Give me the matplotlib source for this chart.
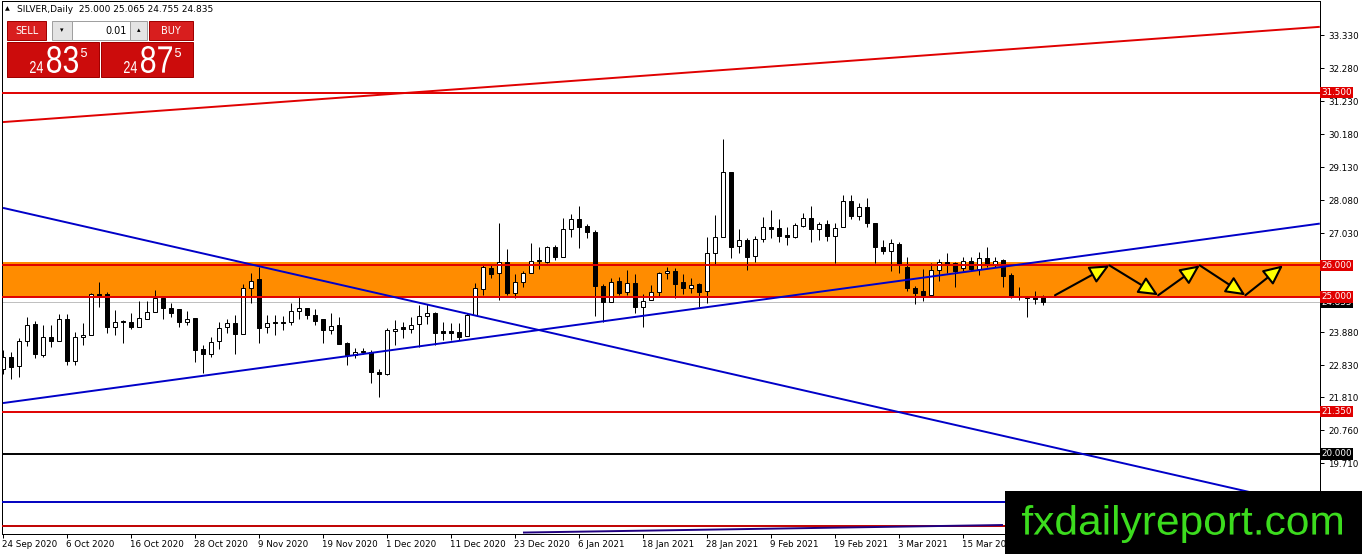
import matplotlib
matplotlib.use('Agg')
import matplotlib.pyplot as plt
import matplotlib.patches as patches
import matplotlib.transforms as mtransforms
from matplotlib.textpath import TextPath
from matplotlib.font_manager import FontProperties

# --- daily candles, SILVER, 24 Sep 2020 .. 29 Mar 2021 (bar index = position) ---
opens = [22.70, 23.07, 22.81, 23.59, 24.14, 23.15, 23.71, 23.61, 24.28, 22.97,
         23.71, 23.79, 25.09, 25.09, 24.05, 24.24, 24.19, 24.05, 24.30, 24.53,
         24.95, 24.63, 24.60, 24.21, 24.32, 23.33, 23.17, 23.59, 24.03, 24.16,
         23.81, 25.27, 25.56, 24.03, 24.20, 24.19, 24.20, 24.56, 24.66, 24.41,
         24.29, 23.96, 24.10, 23.52, 23.15, 23.28, 23.25, 22.60, 22.56, 23.92,
         24.04, 23.97, 24.12, 24.40, 24.47, 23.91, 23.91, 23.88, 23.76, 24.42,
         25.24, 25.93, 25.75, 26.10, 25.11, 25.46, 25.75, 26.17, 26.12, 26.57,
         26.28, 27.15, 27.47, 27.25, 27.05, 25.34, 24.82, 25.50, 25.14, 25.43,
         24.67, 24.90, 25.14, 25.75, 25.81, 25.46, 25.27, 25.41, 25.20, 26.41,
         26.91, 28.96, 26.62, 26.81, 26.30, 26.83, 27.22, 27.18, 26.97, 26.89,
         27.25, 27.50, 27.15, 27.32, 26.95, 27.21, 28.06, 27.57, 27.87, 27.34,
         26.60, 26.47, 26.68, 25.94, 25.27, 25.19, 25.05, 25.86, 26.12, 26.07,
         25.91, 26.15, 25.87, 26.22, 26.01, 26.17, 25.69, 25.03, 24.98, 24.98,
         25.000]
highs = [23.31, 23.25, 23.68, 24.35, 24.24, 24.10, 24.10, 24.45, 24.45, 23.89,
         24.16, 25.13, 25.48, 25.16, 24.58, 24.26, 24.50, 24.88, 24.88, 25.22,
         25.00, 24.79, 24.60, 24.56, 24.32, 23.46, 23.73, 24.21, 24.31, 24.42,
         25.41, 25.77, 25.96, 24.42, 24.42, 24.39, 24.79, 24.98, 24.66, 24.60,
         24.31, 24.50, 24.35, 23.57, 23.36, 23.36, 23.31, 22.69, 24.00, 24.26,
         24.21, 24.37, 24.74, 24.77, 24.53, 24.21, 24.16, 24.16, 24.47, 25.43,
         26.01, 26.01, 27.36, 26.51, 25.73, 25.83, 26.72, 26.57, 26.62, 26.65,
         27.50, 27.63, 27.89, 27.31, 27.12, 25.41, 25.59, 25.64, 25.85, 25.72,
         25.09, 25.38, 25.80, 25.94, 25.91, 25.72, 25.59, 25.43, 26.89, 27.60,
         30.01, 28.96, 27.15, 26.86, 26.93, 27.53, 27.76, 27.47, 27.23, 27.36,
         27.66, 27.89, 27.39, 27.44, 27.34, 28.24, 28.24, 27.97, 28.13, 27.34,
         26.81, 26.83, 26.76, 26.26, 25.35, 25.87, 26.07, 26.19, 26.40, 26.12,
         26.26, 26.28, 26.44, 26.57, 26.26, 26.19, 25.77, 25.30, 25.03, 25.19,
         25.065]
lows = [22.56, 22.37, 22.44, 23.45, 23.04, 23.10, 23.39, 23.61, 22.83, 22.83,
        23.47, 23.79, 24.69, 23.86, 23.79, 23.52, 23.98, 24.05, 24.28, 24.53,
        24.28, 24.35, 24.03, 24.10, 22.94, 22.57, 23.10, 23.33, 23.84, 23.17,
        23.81, 24.81, 23.52, 23.84, 23.79, 23.94, 24.10, 24.28, 24.28, 24.10,
        23.54, 23.82, 23.50, 22.83, 23.04, 23.18, 22.25, 21.82, 22.51, 23.47,
        23.68, 23.86, 23.41, 24.13, 23.47, 23.63, 23.63, 23.63, 23.76, 24.42,
        25.06, 25.59, 24.90, 25.06, 24.96, 25.32, 25.75, 25.87, 26.07, 26.17,
        26.28, 26.91, 26.54, 26.86, 24.40, 24.21, 24.82, 25.06, 25.06, 24.50,
        24.05, 24.90, 25.00, 25.56, 24.95, 25.09, 25.11, 24.67, 24.79, 26.01,
        26.91, 26.22, 26.38, 25.85, 26.12, 26.76, 26.86, 26.76, 26.65, 26.86,
        27.23, 26.76, 26.81, 26.79, 26.09, 27.21, 27.47, 27.44, 27.21, 26.07,
        26.36, 25.83, 25.77, 25.20, 24.77, 24.88, 25.05, 25.51, 25.75, 25.30,
        25.83, 25.83, 25.69, 25.94, 25.94, 25.30, 24.95, 24.90, 24.35, 24.77,
        24.755]
closes = [23.07, 22.78, 23.59, 24.10, 23.18, 23.71, 23.61, 24.28, 22.97, 23.71,
          23.79, 25.09, 25.03, 24.05, 24.19, 24.20, 24.05, 24.32, 24.53, 24.95,
          24.63, 24.50, 24.21, 24.28, 23.31, 23.17, 23.55, 24.00, 24.16, 23.81,
          25.27, 25.51, 24.02, 24.16, 24.16, 24.18, 24.56, 24.66, 24.41, 24.23,
          23.94, 24.06, 23.50, 23.15, 23.25, 23.23, 22.62, 22.53, 23.94, 23.99,
          23.97, 24.09, 24.40, 24.47, 23.86, 23.86, 23.84, 23.73, 24.42, 25.27,
          25.96, 25.73, 26.10, 25.11, 25.46, 25.75, 26.15, 26.13, 26.57, 26.28,
          27.15, 27.47, 27.23, 27.05, 25.35, 24.82, 25.46, 25.11, 25.43, 24.67,
          24.87, 25.14, 25.75, 25.81, 25.40, 25.27, 25.38, 25.16, 26.41, 26.89,
          28.96, 26.60, 26.81, 26.26, 26.83, 27.21, 27.17, 26.95, 26.89, 27.28,
          27.50, 27.15, 27.32, 26.95, 27.20, 28.06, 27.57, 27.87, 27.34, 26.58,
          26.47, 26.70, 26.03, 25.27, 25.13, 25.05, 25.85, 26.12, 26.01, 25.83,
          26.15, 25.87, 26.22, 26.01, 26.15, 25.66, 25.03, 24.98, 24.95, 24.93,
          24.835]

date_labels = ['24 Sep 2020', '6 Oct 2020', '16 Oct 2020', '28 Oct 2020', '9 Nov 2020',
               '19 Nov 2020', '1 Dec 2020', '11 Dec 2020', '23 Dec 2020', '6 Jan 2021',
               '18 Jan 2021', '28 Jan 2021', '9 Feb 2021', '19 Feb 2021', '3 Mar 2021',
               '15 Mar 2021']
date_bars = [0, 8, 16, 24, 32, 40, 48, 56, 64, 72, 80, 88, 96, 104, 112, 120]

price_ticks = [33.33, 32.28, 31.23, 30.18, 29.13, 28.08, 27.03, 23.88, 22.83, 21.81, 20.76, 19.71]
price_tick_labels = ['33.330', '32.280', '31.230', '30.180', '29.130', '28.080', '27.030',
                     '23.880', '22.830', '21.810', '20.760', '19.710']

# horizontal levels
level_prices = [31.5, 26.0, 25.0, 21.35, 20.0, 18.48, 17.70]
level_colors = ['#e00000', '#e00000', '#e00000', '#e00000', 'black', '#0000c0', '#c00000']
zone_low, zone_high = 24.98, 26.12
bid = 24.835

# trend lines: (bar0, price0, bar1, price1)
red_ray = [0, 30.56, 164.6, 33.59]
blue_up = [0, 21.62, 164.6, 27.33]
blue_down = [0, 27.83, 164.6, 18.28]
low_line = [65, 17.50, 125, 17.74]

# projected zigzag
arrow_x = [131.5, 138.3, 144.4, 149.6, 155.3, 160.0]
arrow_y = [25.05, 26.0, 25.05, 26.0, 25.05, 26.0]

W, H = 1362, 554
fig = plt.figure(figsize=(W / 100, H / 100), dpi=100)
fig.patch.set_facecolor('white')
ax = fig.add_axes([2 / W, 20 / H, 1318 / W, 533 / H])
ax.set_xlim(-0.125, 164.625)
ax.set_ylim(17.454, 34.412)

px = 0.72  # one pixel in points

# zone
ax.add_patch(patches.Rectangle((-1, zone_low), 170, zone_high - zone_low,
                               facecolor='#ff8c00', edgecolor='none', zorder=1))
ax.axhline(bid, color='#c0c0c0', lw=px, zorder=1.5)

# candles
n = len(opens)
xs = list(range(n))
ax.vlines(xs, lows, highs, color='black', lw=px, zorder=2)
for i in range(n):
    o, c = opens[i], closes[i]
    bottom = min(o, c)
    h = max(abs(c - o), 0.03)
    fc = 'white' if c >= o else 'black'
    ax.add_patch(patches.Rectangle((i - 0.3, bottom), 0.6, h, facecolor=fc,
                                   edgecolor='black', lw=px, zorder=2.5))

# levels and trend lines
for p, col in zip(level_prices, level_colors):
    ax.axhline(p, color=col, lw=1.4, zorder=3)
for ln, col in [(red_ray, '#e00000'), (blue_up, '#0000c8'), (blue_down, '#0000c8'),
                (low_line, '#200080')]:
    ax.plot([ln[0], ln[2]], [ln[1], ln[3]], color=col, lw=1.4, zorder=3,
            solid_capstyle='butt')

# zigzag arrows
for k in range(len(arrow_x) - 1):
    ax.add_patch(patches.FancyArrowPatch(
        (arrow_x[k], arrow_y[k]), (arrow_x[k + 1], arrow_y[k + 1]),
        arrowstyle='-|>,head_length=0.6,head_width=0.28', mutation_scale=20,
        facecolor='#ffff00', edgecolor='black', lw=1.5, shrinkA=0, shrinkB=0, zorder=4))

# axes styling
for s in ['left', 'top', 'bottom', 'right']:
    ax.spines[s].set_color('black')
    ax.spines[s].set_linewidth(px)
ax.yaxis.tick_right()
ax.set_yticks(price_ticks, price_tick_labels)
ax.set_xticks(date_bars, date_labels)
ax.tick_params(axis='y', direction='out', length=3, width=px, pad=3, labelsize=6.3)
ax.tick_params(axis='x', direction='out', length=3, width=px, pad=1, labelsize=6.3)
offs = mtransforms.ScaledTranslation(-1 / 100, 0, fig.dpi_scale_trans)
for lab in ax.get_xticklabels():
    lab.set_ha('left')
    lab.set_transform(lab.get_transform() + offs)

# coloured price labels on the axis
tr = mtransforms.blended_transform_factory(ax.transAxes, ax.transData)
for p, txt, bg in [(bid, '24.835', 'black'), (31.5, '31.500', '#e00000'),
                   (26.0, '26.000', '#e00000'), (25.0, '25.000', '#e00000'),
                   (21.35, '21.350', '#e00000'), (20.0, '20.000', 'black')]:
    ax.text(1.0007, p, txt, transform=tr, fontsize=6.3, color='white', va='center',
            ha='left', zorder=6, clip_on=False,
            bbox=dict(boxstyle='square,pad=0.15', facecolor=bg, edgecolor='none'))

# overlay in pixel coordinates
ov = fig.add_axes([0, 0, 1, 1], zorder=10)
ov.set_xlim(0, W)
ov.set_ylim(H, 0)
ov.axis('off')
ov.patch.set_alpha(0)


def fit_text(s, x0, x1, ytop, ybot, color, family='Liberation Sans'):
    # squeeze the glyph outlines into a pixel box
    tp = TextPath((0, 0), s, size=50, prop=FontProperties(family=family))
    bb = tp.get_extents()
    sx = (x1 - x0) / bb.width
    sy = (ybot - ytop) / bb.height
    t = mtransforms.Affine2D().translate(-bb.x0, -bb.y1).scale(sx, -sy).translate(x0, ytop)
    ov.add_patch(patches.PathPatch(t.transform_path(tp), facecolor=color,
                                   edgecolor='none'))


ov.text(5, 9, '\u25b2', fontsize=4.5, va='center', ha='left')
ov.text(17, 9, 'SILVER,Daily  25.000 25.065 24.755 24.835', fontsize=6.5,
        va='center', ha='left')

ov.add_patch(patches.Rectangle((5, 18), 190, 61, facecolor='white', edgecolor='none'))
for x0, x1, label in [(7, 46, 'SELL'), (149, 193, 'BUY')]:
    ov.add_patch(patches.Rectangle((x0, 21), x1 - x0, 19, facecolor='#d81e1e',
                                   edgecolor='#a00000', lw=px))
    ov.text((x0 + x1) / 2, 30.5, label, color='white', fontsize=7, ha='center', va='center')
ov.add_patch(patches.Rectangle((52, 21), 20, 19, facecolor='#e4e4e4', edgecolor='#a0a0a0', lw=px))
ov.add_patch(patches.Rectangle((72, 21), 58, 19, facecolor='white', edgecolor='#a0a0a0', lw=px))
ov.add_patch(patches.Rectangle((130, 21), 17, 19, facecolor='#e4e4e4', edgecolor='#a0a0a0', lw=px))
ov.text(62, 30.5, '\u25be', fontsize=5, ha='center', va='center')
ov.text(138.5, 30.5, '\u25b4', fontsize=5, ha='center', va='center')
ov.text(127, 30.5, '0.01', fontsize=7, ha='right', va='center')

for x0, x1, big in [(7, 99, '83'), (101, 193, '87')]:
    ov.add_patch(patches.Rectangle((x0, 42), x1 - x0, 35, facecolor='#cc0c0c',
                                   edgecolor='#a00000', lw=px))
    fit_text('24', x0 + 23, x0 + 36, 61, 73, 'white')
    fit_text(big, x0 + 40, x0 + 71, 46, 73, 'white')
    fit_text('5', x0 + 74, x0 + 80, 48, 57, 'white')

# watermark
ov.add_patch(patches.Rectangle((1005, 491), W - 1005, H - 491, facecolor='black',
                               edgecolor='none'))
fit_text('fxdailyreport.com', 1022, 1342, 505, 543, '#3cdc1e')

fig.savefig('out.png', dpi=100)
